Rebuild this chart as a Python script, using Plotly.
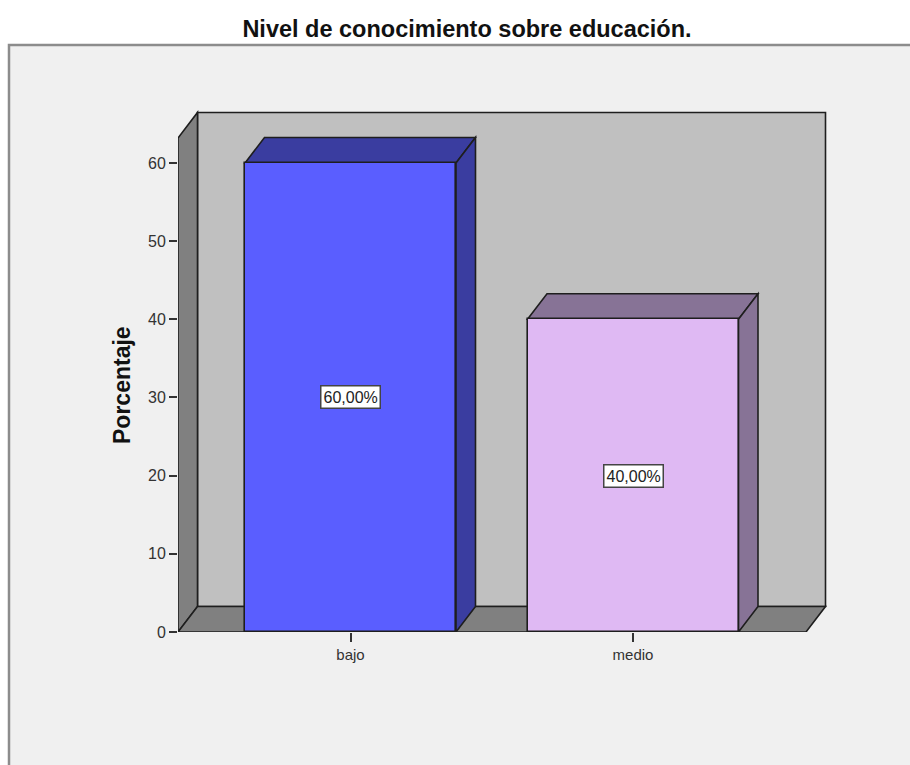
import plotly.graph_objects as go

# ---- data ----
categories = ["bajo", "medio"]
percentages = [60.0, 40.0]
front_colors = ["#5A5EFF", "#DFB9F3"]
side_colors = ["#3A3DA0", "#877396"]

title_text = "Nivel de conocimiento sobre educación."
y_title = "Porcentaje"
y_ticks = [0, 10, 20, 30, 40, 50, 60]

# ---- layout geometry (style) ----
W, H = 910, 765
L, R, T, B = 178, 830, 100, 632          # plot area in px
x_of_first, cat_px = 350.5, 282.5          # px of first category, px per category
y_px_per_unit = 7.817
xmin = (L - x_of_first) / cat_px
xmax = (R - x_of_first) / cat_px
ymax = (B - T) / y_px_per_unit
dx = 19.5 / cat_px                          # 3D depth in data units
dy = 25.5 / y_px_per_unit
floor_right = (806 - x_of_first) / cat_px
wall_top = 63.2
bar_w = 211 / cat_px
EDGE = "#1E1E1E"
LW = 1.6

xs = list(range(len(categories)))

fig = go.Figure()

shapes = []

def px_paper_x(px):
    return (px - L) / (R - L)

def px_paper_y(py):
    return (B - py) / (B - T)

# outer panel
shapes.append(dict(type="rect", xref="paper", yref="paper",
                   x0=px_paper_x(9), x1=px_paper_x(920),
                   y0=px_paper_y(780), y1=px_paper_y(45),
                   fillcolor="#F0F0F0", line=dict(color="#8C8C8C", width=2.5),
                   layer="below"))

def poly(pts, fill):
    path = "M " + " L ".join(f"{x},{y}" for x, y in pts) + " Z"
    return dict(type="path", xref="x", yref="y", path=path, fillcolor=fill,
                line=dict(color=EDGE, width=LW), layer="below")

x0 = xmin
# back wall
shapes.append(poly([(x0 + dx, dy), (floor_right + dx, dy),
                    (floor_right + dx, wall_top + dy), (x0 + dx, wall_top + dy)], "#C0C0C0"))
# left side wall
shapes.append(poly([(x0, 0), (x0 + dx, dy), (x0 + dx, wall_top + dy), (x0, wall_top)], "#808080"))
# floor
shapes.append(poly([(x0, 0), (floor_right, 0), (floor_right + dx, dy), (x0 + dx, dy)], "#808080"))

# bar top and side faces
for xi, v, sc in zip(xs, percentages, side_colors):
    xl, xr = xi - bar_w / 2, xi + bar_w / 2
    shapes.append(poly([(xl, v), (xl + dx, v + dy), (xr + dx, v + dy), (xr, v)], sc))
    shapes.append(poly([(xr, 0), (xr + dx, dy), (xr + dx, v + dy), (xr, v)], sc))

# bar front faces
fig.add_trace(go.Bar(x=xs, y=percentages, width=bar_w,
                     marker=dict(color=front_colors, line=dict(color=EDGE, width=LW)),
                     hoverinfo="skip", showlegend=False))

annotations = []
for xi, v in zip(xs, percentages):
    label = f"{v:.2f}".replace(".", ",") + "%"
    annotations.append(dict(x=xi, y=v / 2, xref="x", yref="y", text=label,
                            showarrow=False, bgcolor="white", bordercolor="#444444",
                            borderwidth=1.5, borderpad=2,
                            font=dict(family="Liberation Sans, Arial", size=16, color="#222222")))

annotations.append(dict(x=px_paper_x(107), y=px_paper_y(385), xref="paper", yref="paper",
                        text=f"<b>{y_title}</b>", textangle=-90, showarrow=False,
                        font=dict(family="Liberation Sans, Arial", size=23, color="#111111")))

fig.update_layout(
    width=W, height=H,
    margin=dict(l=L, r=W - R, t=T, b=H - B, pad=0),
    paper_bgcolor="white", plot_bgcolor="rgba(0,0,0,0)",
    title=dict(text=f"<b>{title_text}</b>", x=467 / W, y=1 - 29 / H,
               xanchor="center", yanchor="middle",
               font=dict(family="Liberation Sans, Arial", size=23.5, color="#111111")),
    shapes=shapes, annotations=annotations,
    xaxis=dict(range=[xmin, xmax], tickvals=xs, ticktext=categories,
               showgrid=False, zeroline=False, showline=False,
               ticks="outside", ticklen=9, tickwidth=1.5, tickcolor="#333333",
               tickfont=dict(family="Liberation Sans, Arial", size=15, color="#333333")),
    yaxis=dict(range=[0, ymax], tickvals=y_ticks,
               showgrid=False, zeroline=False, showline=False,
               ticks="outside", ticklen=8, tickwidth=1.5, tickcolor="#333333",
               tickfont=dict(family="Liberation Sans, Arial", size=16, color="#333333")),
    bargap=0,
)

fig.write_html("out.html")
